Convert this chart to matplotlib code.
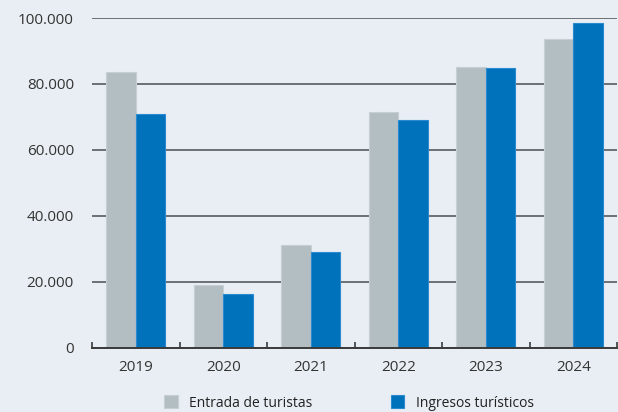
import matplotlib
matplotlib.use("Agg")
import matplotlib.pyplot as plt
import numpy as np
from matplotlib.ticker import FuncFormatter

# data
years = ["2019", "2020", "2021", "2022", "2023", "2024"]
entrada = [83500, 19000, 31100, 71600, 85100, 93700]
ingresos = [71000, 16300, 29000, 69000, 84900, 98500]
series_names = ["Entrada de turistas", "Ingresos turísticos"]

bg = "#e8eef3"
gray = "#b3bec3"
blue = "#0071bb"

plt.rcParams['font.family'] = ['Open Sans', 'DejaVu Sans']

fig = plt.figure(figsize=(6.18, 4.12), dpi=100, facecolor=bg)
ax = fig.add_axes([92/618, (412-347.7)/412, (617-92)/618, (347.7-18)/412])
ax.set_facecolor(bg)

x = np.arange(len(years))
w = 0.337
ax.bar(x - w/2, entrada, w, color=gray, edgecolor="#c6cfd3", linewidth=0.8,
       label=series_names[0], zorder=3)
ax.bar(x + w/2, ingresos, w, color=blue, edgecolor="#2a8ad0", linewidth=0.8,
       label=series_names[1], zorder=3)

ax.set_xlim(-0.5, len(years) - 0.5)
ax.set_ylim(0, 100000)
ax.set_yticks(np.arange(0, 100001, 20000))
ax.yaxis.set_major_formatter(FuncFormatter(lambda v, p: f"{int(v):,}".replace(",", ".")))

for s in ["top", "right", "left"]:
    ax.spines[s].set_visible(False)
ax.spines["bottom"].set_color("#3a3a3a")
ax.spines["bottom"].set_linewidth(1.4)
ax.spines["bottom"].set_zorder(4)

ax.yaxis.grid(True, color="#555b5f", linewidth=1.2, zorder=1)
ax.set_axisbelow(True)

ax.set_xticks(x)
ax.set_xticklabels(years)
ax.set_xticks(np.arange(-0.5, len(years) + 0.5, 1), minor=True)
ax.tick_params(axis="x", which="major", length=0, pad=9, labelsize=11, labelcolor="#333333")
ax.tick_params(axis="x", which="minor", direction="in", length=4, width=1.2, color="#3a3a3a")
ax.tick_params(axis="y", length=0, pad=13, labelsize=11, labelcolor="#333333")

fig.legend(loc="center", bbox_to_anchor=(349/618, 1 - 403/412), ncol=2, frameon=False,
           fontsize=10, handlelength=1.0, handleheight=1.05, handletextpad=0.8,
           columnspacing=5.6, labelcolor="#222222")

fig.savefig("out.png", dpi=100, facecolor=bg)
